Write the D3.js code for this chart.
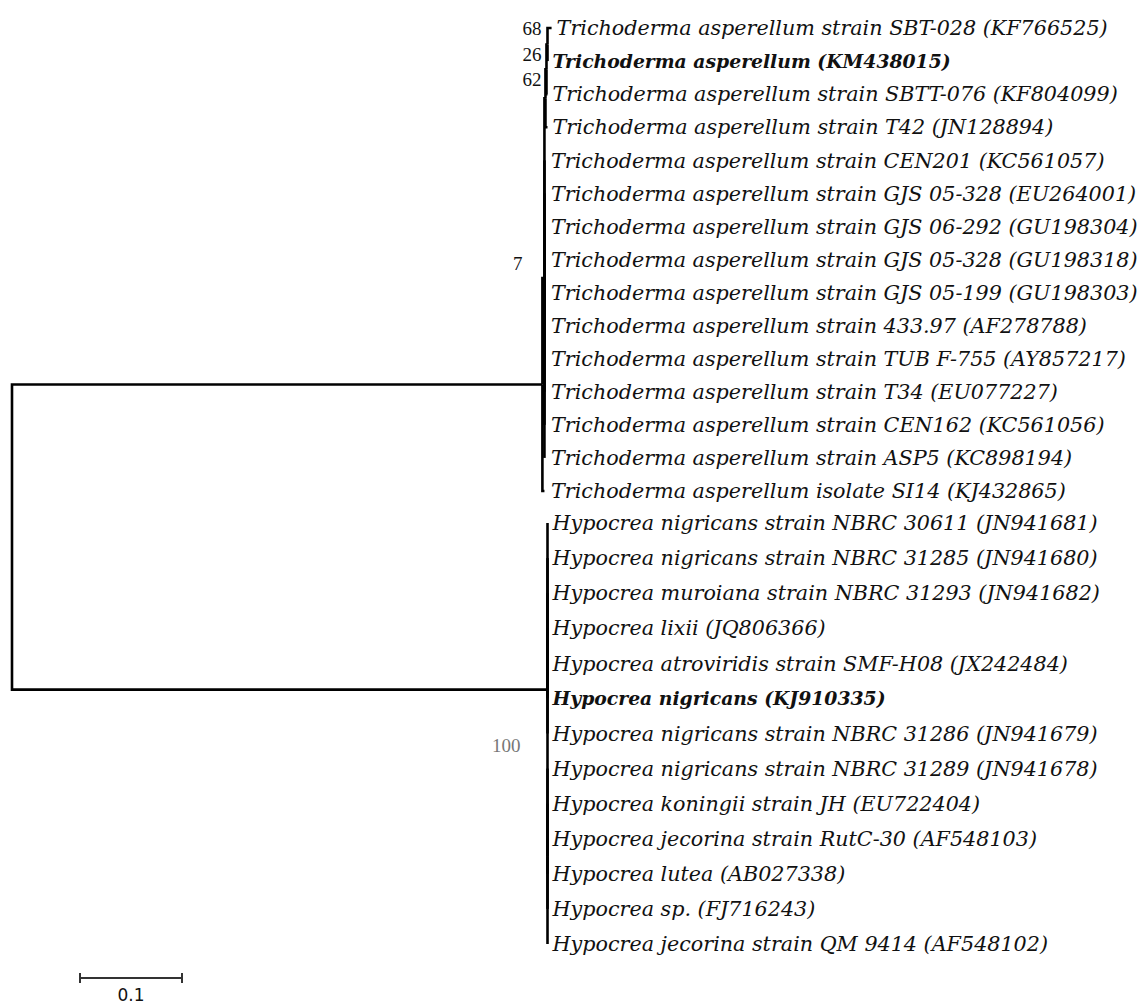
<!DOCTYPE html>
<html>
<head>
<meta charset="utf-8">
<script src="https://cdn.jsdelivr.net/npm/d3@7.9.0/dist/d3.min.js"></script>
<style>
  body { margin: 0; background: #fff; }
  .leaf { font-family: "DejaVu Serif", serif; font-style: italic; font-size: 20.7px; fill: #111; }
  .leaf.bold { font-weight: bold; font-size: 18.8px; }
  .support { font-family: "Liberation Serif", serif; font-size: 19px; fill: #111; }
  .scale-label { font-family: "DejaVu Sans", sans-serif; font-size: 17px; fill: #111; }
</style>
</head>
<body>
<svg id="chart" width="1142" height="1005"></svg>
<script>
// leaf labels, top to bottom
const leafNames = [
  "Trichoderma asperellum strain SBT-028 (KF766525)",
  "Trichoderma asperellum (KM438015)",
  "Trichoderma asperellum strain SBTT-076 (KF804099)",
  "Trichoderma asperellum strain T42 (JN128894)",
  "Trichoderma asperellum strain CEN201 (KC561057)",
  "Trichoderma asperellum strain GJS 05-328 (EU264001)",
  "Trichoderma asperellum strain GJS 06-292 (GU198304)",
  "Trichoderma asperellum strain GJS 05-328 (GU198318)",
  "Trichoderma asperellum strain GJS 05-199 (GU198303)",
  "Trichoderma asperellum strain 433.97 (AF278788)",
  "Trichoderma asperellum strain TUB F-755 (AY857217)",
  "Trichoderma asperellum strain T34 (EU077227)",
  "Trichoderma asperellum strain CEN162 (KC561056)",
  "Trichoderma asperellum strain ASP5 (KC898194)",
  "Trichoderma asperellum isolate SI14 (KJ432865)",
  "Hypocrea nigricans strain NBRC 30611 (JN941681)",
  "Hypocrea nigricans strain NBRC 31285 (JN941680)",
  "Hypocrea muroiana strain NBRC 31293 (JN941682)",
  "Hypocrea lixii (JQ806366)",
  "Hypocrea atroviridis strain SMF-H08 (JX242484)",
  "Hypocrea nigricans (KJ910335)",
  "Hypocrea nigricans strain NBRC 31286 (JN941679)",
  "Hypocrea nigricans strain NBRC 31289 (JN941678)",
  "Hypocrea koningii strain JH (EU722404)",
  "Hypocrea jecorina strain RutC-30 (AF548103)",
  "Hypocrea lutea (AB027338)",
  "Hypocrea sp. (FJ716243)",
  "Hypocrea jecorina strain QM 9414 (AF548102)"
];
const boldNames = ["Trichoderma asperellum (KM438015)", "Hypocrea nigricans (KJ910335)"];

const leafParents = [
  "n68", "n68", "n26", "n62", "n7", "n7", "n7", "n7", "n7", "n7", "n7", "n7", "n7", "n7", "T",
  "H", "H", "H", "H", "H", "H", "H", "H2", "H2", "H2", "H2", "H2", "H2"
];
const leafLengths = [
  0.004, 0.000, 0.001, 0.002, 0, 0, 0, 0, 0, 0, 0, 0, 0, 0, 0.002,
  0, 0, 0, 0, 0, 0, 0, 0, 0, 0, 0, 0, 0
];

// internal nodes
const innerIds     = ["root", "T",    "n7",  "n62", "n26", "n68", "H",    "H2"];
const innerParents = ["",     "root", "T",   "n7",  "n62", "n26", "root", "H"];
const innerLengths = [0,      0.520,  0.002, 0.001, 0.001, 0.001, 0.525,  0];
const supports     = { n68: 68, n26: 26, n62: 62, n7: 7, H: 100 };

const scaleBarValue = 0.1;

// leaf rows: the two clades are spaced slightly differently
const rowIndex = [0, 14, 15, 27];
const rowY     = [28, 491, 523, 944];

// where each support label sits relative to its node
const supportOffsets = { n68: [-6, -10], n26: [-5, -8], n62: [-4, -12], n7: [-22, -8], H: [-27, 62] };

const svg = d3.select("#chart");

const table = innerIds.map((id, i) => ({ id, parentId: innerParents[i] || null, length: innerLengths[i] }))
  .concat(leafNames.map((name, i) => ({ id: "leaf" + i, parentId: leafParents[i], length: leafLengths[i], name, index: i })));

const root = d3.stratify().id(d => d.id).parentId(d => d.parentId)(table);

root.eachBefore(n => { n.dist = (n.parent ? n.parent.dist : 0) + n.data.length; });

const x = d3.scaleLinear().domain([0, 0.1]).range([12, 114]);
const y = d3.scaleLinear().domain(rowIndex).range(rowY);

// y of a node = middle of its children's extent
root.eachAfter(n => {
  if (n.children) {
    const [lo, hi] = d3.extent(n.children, c => c.yPos);
    n.yPos = (lo + hi) / 2;
  } else {
    n.yPos = y(n.data.index);
  }
});

// branches
svg.append("g")
  .selectAll("path")
  .data(root.links())
  .join("path")
  .attr("d", l => `M${x(l.source.dist)},${l.source.yPos}V${l.target.yPos}H${x(l.target.dist)}`)
  .attr("fill", "none")
  .attr("stroke", "#000")
  .attr("stroke-width", 2.6);

// leaf labels
svg.append("g")
  .selectAll("text")
  .data(root.leaves())
  .join("text")
  .attr("class", d => boldNames.includes(d.data.name) ? "leaf bold" : "leaf")
  .attr("x", d => Math.max(x(d.dist) + 5, 551))
  .attr("y", d => d.yPos)
  .attr("dy", "0.35em")
  .text(d => d.data.name);

// bootstrap values
svg.append("g")
  .selectAll("text")
  .data(root.descendants().filter(n => supports[n.id] !== undefined))
  .join("text")
  .attr("class", "support")
  .attr("text-anchor", "end")
  .attr("x", d => x(d.dist) + supportOffsets[d.id][0])
  .attr("y", d => d.yPos + supportOffsets[d.id][1])
  .style("fill", d => d.id === "H" ? "#777" : "#111")
  .text(d => supports[d.id]);

// scale bar
const barX = 80, barY = 978;
const barW = x(scaleBarValue) - x(0);
const bar = svg.append("g").attr("transform", `translate(${barX},${barY})`);
bar.append("line").attr("x1", 0).attr("x2", barW).attr("stroke", "#333").attr("stroke-width", 2);
bar.selectAll(".tick").data([0, barW]).join("line")
  .attr("x1", d => d).attr("x2", d => d).attr("y1", -5).attr("y2", 5)
  .attr("stroke", "#333").attr("stroke-width", 2);
bar.append("text").attr("class", "scale-label")
  .attr("x", barW / 2).attr("y", 23).attr("text-anchor", "middle")
  .text(scaleBarValue);
</script>
</body>
</html>
